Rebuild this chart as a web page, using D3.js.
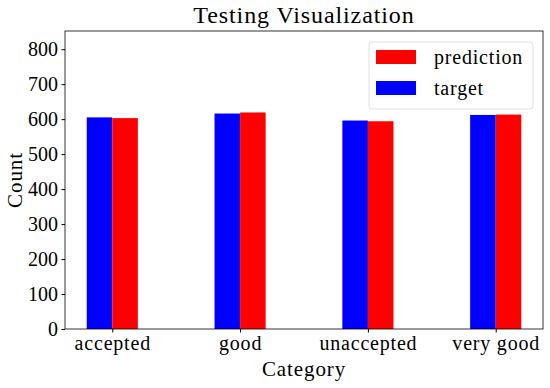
<!DOCTYPE html>
<html>
<head>
<meta charset="utf-8">
<script src="https://cdn.jsdelivr.net/npm/d3@7"></script>
<style>
  body { margin: 0; background: #fff; }
  text { font-family: "Liberation Serif", "DejaVu Serif", serif; fill: #000; }
</style>
</head>
<body>
<svg id="chart" width="550" height="388"></svg>
<script>
var categories = ["accepted", "good", "unaccepted", "very good"];
var target = [605, 616, 596, 612];
var prediction = [603, 619, 594, 613];
var yTicks = [0, 100, 200, 300, 400, 500, 600, 700, 800];

var svg = d3.select("#chart");
var margin = {left: 65, right: 7, top: 31, bottom: 59};
var W = 550, H = 388;

var x = d3.scaleLinear()
    .domain([-0.37, categories.length - 1 + 0.37])
    .range([margin.left, W - margin.right]);

var y = d3.scaleLinear()
    .domain([0, 852])
    .range([H - margin.bottom, margin.top]);

var barW = 0.2;

// target bars (left of tick)
svg.selectAll(".target")
    .data(target)
  .enter().append("rect")
    .attr("class", "target")
    .attr("x", (d, i) => x(i - barW))
    .attr("width", x(barW) - x(0))
    .attr("y", d => y(d))
    .attr("height", d => y(0) - y(d))
    .style("fill", "#0000ff");

// prediction bars (right of tick)
svg.selectAll(".prediction")
    .data(prediction)
  .enter().append("rect")
    .attr("class", "prediction")
    .attr("x", (d, i) => x(i))
    .attr("width", x(barW) - x(0))
    .attr("y", d => y(d))
    .attr("height", d => y(0) - y(d))
    .style("fill", "#ff0000");

// frame
svg.append("rect")
    .attr("x", margin.left)
    .attr("y", margin.top)
    .attr("width", W - margin.left - margin.right)
    .attr("height", H - margin.top - margin.bottom)
    .style("fill", "none")
    .style("stroke", "#000")
    .style("stroke-width", 0.8);

var yAxis = svg.append("g")
    .attr("transform", "translate(" + margin.left + ",0)")
    .call(d3.axisLeft(y).tickValues(yTicks).tickSize(3.5).tickPadding(3.5));
yAxis.select(".domain").remove();
yAxis.selectAll("text").style("font-size", "20px").attr("dy", "0.33em");

var xAxis = svg.append("g")
    .attr("transform", "translate(0," + (H - margin.bottom) + ")")
    .call(d3.axisBottom(x).tickValues(d3.range(categories.length)).tickFormat(i => categories[i]).tickSize(3.5).tickPadding(3));
xAxis.select(".domain").remove();
xAxis.selectAll("text").style("font-size", "20px").style("letter-spacing", "0.8px");

svg.append("text")
    .attr("x", (margin.left + W - margin.right) / 2)
    .attr("y", 23)
    .attr("text-anchor", "middle")
    .style("font-size", "24px")
    .style("letter-spacing", "0.9px")
    .text("Testing Visualization");

svg.append("text")
    .attr("x", (margin.left + W - margin.right) / 2)
    .attr("y", 376)
    .attr("text-anchor", "middle")
    .style("font-size", "21px")
    .style("letter-spacing", "0.9px")
    .text("Category");

svg.append("text")
    .attr("transform", "translate(22," + ((margin.top + H - margin.bottom) / 2) + ") rotate(-90)")
    .attr("text-anchor", "middle")
    .style("font-size", "21px")
    .style("letter-spacing", "0.9px")
    .text("Count");

// legend
var legend = svg.append("g").attr("transform", "translate(369,42)");
legend.append("rect")
    .attr("width", 164).attr("height", 67).attr("rx", 3)
    .style("fill", "#fff").style("fill-opacity", 0.8)
    .style("stroke", "#d8d8d8").style("stroke-width", 0.8);
var items = [{name: "prediction", color: "#ff0000"}, {name: "target", color: "#0000ff"}];
items.forEach((it, i) => {
  legend.append("rect")
      .attr("x", 7).attr("y", 8 + i * 31)
      .attr("width", 40).attr("height", 14)
      .style("fill", it.color);
  legend.append("text")
      .attr("x", 65).attr("y", 15 + i * 31)
      .attr("dy", "0.35em")
      .style("font-size", "20px")
      .style("letter-spacing", "0.8px")
      .text(it.name);
});
</script>
</body>
</html>
